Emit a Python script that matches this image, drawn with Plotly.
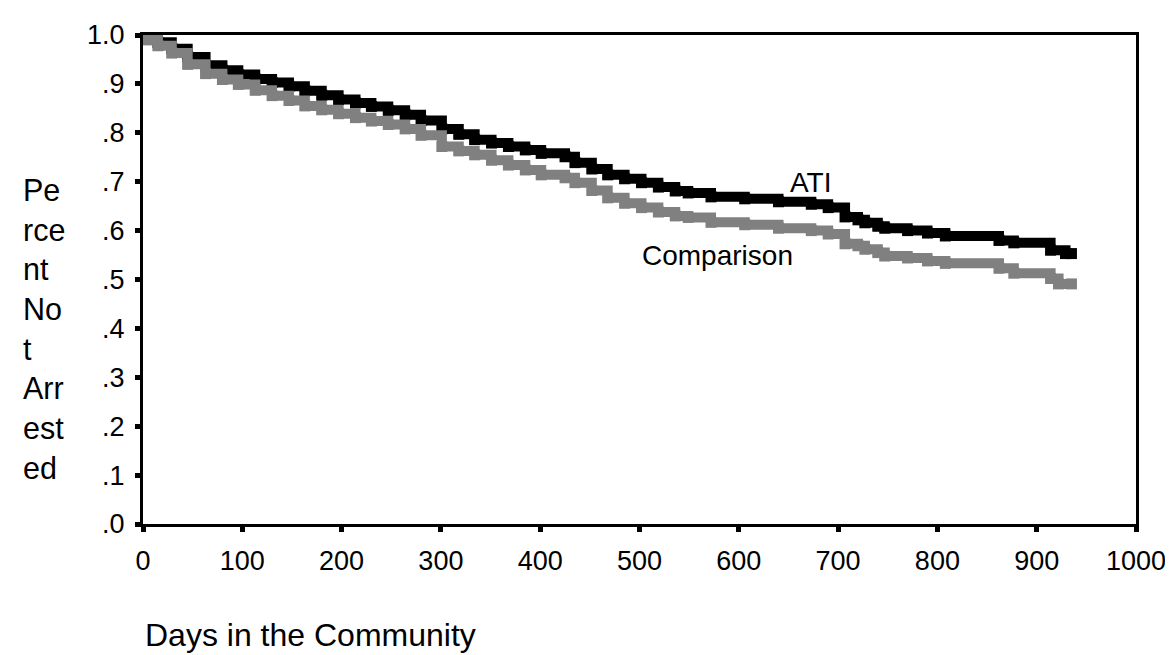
import plotly.graph_objects as go

# Kaplan-Meier style survival curves
ati_days = [0, 5, 15, 29, 45, 63, 80, 96, 113, 130, 147, 163, 180, 197, 214, 230, 247, 264,
            280, 301, 318, 334, 351, 368, 385, 401, 425, 435, 452, 468, 485, 502, 519, 536,
            549, 572, 606, 640, 673, 690, 707, 720, 727, 740, 747, 770, 790, 808, 862, 877,
            914, 929, 935]
ati_vals = [1.000, 0.995, 0.985, 0.972, 0.955, 0.938, 0.928, 0.919, 0.910, 0.903, 0.895,
            0.886, 0.877, 0.868, 0.861, 0.854, 0.846, 0.837, 0.825, 0.808, 0.797, 0.786,
            0.779, 0.772, 0.765, 0.758, 0.751, 0.739, 0.726, 0.714, 0.706, 0.698, 0.689,
            0.681, 0.677, 0.669, 0.665, 0.659, 0.654, 0.647, 0.628, 0.622, 0.616, 0.609,
            0.605, 0.600, 0.595, 0.589, 0.580, 0.575, 0.560, 0.553, 0.553]

cmp_days = [0, 5, 15, 29, 45, 63, 80, 96, 113, 130, 147, 163, 180, 197, 214, 230, 247, 264,
            280, 301, 318, 334, 351, 368, 385, 401, 425, 435, 452, 468, 485, 502, 519, 536,
            549, 572, 606, 640, 673, 690, 707, 720, 727, 740, 747, 770, 790, 808, 862, 877,
            914, 922, 935]
cmp_vals = [1.000, 0.990, 0.978, 0.963, 0.940, 0.921, 0.909, 0.899, 0.887, 0.876, 0.866,
            0.855, 0.847, 0.839, 0.831, 0.824, 0.817, 0.808, 0.795, 0.772, 0.763, 0.755,
            0.744, 0.734, 0.724, 0.714, 0.708, 0.698, 0.682, 0.667, 0.656, 0.647, 0.638,
            0.630, 0.627, 0.617, 0.612, 0.605, 0.600, 0.593, 0.573, 0.569, 0.562, 0.555,
            0.548, 0.544, 0.538, 0.533, 0.523, 0.513, 0.502, 0.491, 0.491]

x_ticks = [0, 100, 200, 300, 400, 500, 600, 700, 800, 900, 1000]
y_ticks = [0.0, 0.1, 0.2, 0.3, 0.4, 0.5, 0.6, 0.7, 0.8, 0.9, 1.0]
y_tick_text = [".0", ".1", ".2", ".3", ".4", ".5", ".6", ".7", ".8", ".9", "1.0"]

y_title_lines = ["Pe", "rce", "nt", "No", "t", "Arr", "est", "ed"]
x_title = "Days in the Community"

FONT = "Liberation Sans, Arial, sans-serif"

fig = go.Figure()
fig.add_trace(go.Scatter(
    x=ati_days, y=ati_vals, mode="lines+markers", name="ATI",
    line=dict(color="#000000", width=10, shape="hv"),
    marker=dict(symbol="square", size=11, color="#000000"),
    showlegend=False,
))
fig.add_trace(go.Scatter(
    x=cmp_days, y=cmp_vals, mode="lines+markers", name="Comparison",
    line=dict(color="#808080", width=10, shape="hv"),
    marker=dict(symbol="square", size=11, color="#808080"),
    showlegend=False,
))

fig.update_layout(
    width=1173, height=655,
    margin=dict(l=135, r=45, t=20, b=139),
    paper_bgcolor="white", plot_bgcolor="white",
    font=dict(family=FONT, color="black"),
    xaxis=dict(
        range=[0, 1000], tickvals=x_ticks, ticktext=[str(v) for v in x_ticks],
        showgrid=False, zeroline=False, showline=True, linecolor="black", linewidth=3,
        mirror=True, ticks="outside", ticklen=5, tickwidth=5, tickcolor="black",
        ticklabelstandoff=6,
        tickfont=dict(size=27, family=FONT, color="black"),
    ),
    yaxis=dict(
        range=[0, 1], tickvals=y_ticks, ticktext=y_tick_text,
        showgrid=False, zeroline=False, showline=True, linecolor="black", linewidth=3,
        mirror=True, ticks="outside", ticklen=5, tickwidth=5, tickcolor="black",
        ticklabelstandoff=5,
        tickfont=dict(size=27, family=FONT, color="black"),
    ),
    annotations=[
        dict(text="<br>".join(y_title_lines), xref="paper", yref="paper",
             x=-0.1229, y=0.3997, xanchor="left", yanchor="middle", align="left",
             showarrow=False, font=dict(size=30.5, family=FONT, color="black")),
        dict(text=x_title, xref="paper", yref="paper", x=0.0, y=-0.226,
             xanchor="left", yanchor="middle", showarrow=False,
             font=dict(size=32, family=FONT, color="black")),
        dict(text="ATI", xref="x", yref="y", x=672, y=0.698,
             xanchor="center", yanchor="middle", showarrow=False,
             font=dict(size=28, family=FONT, color="black")),
        dict(text="Comparison", xref="x", yref="y", x=579, y=0.549,
             xanchor="center", yanchor="middle", showarrow=False,
             font=dict(size=28, family=FONT, color="black")),
    ],
)

fig.write_html("out.html")
